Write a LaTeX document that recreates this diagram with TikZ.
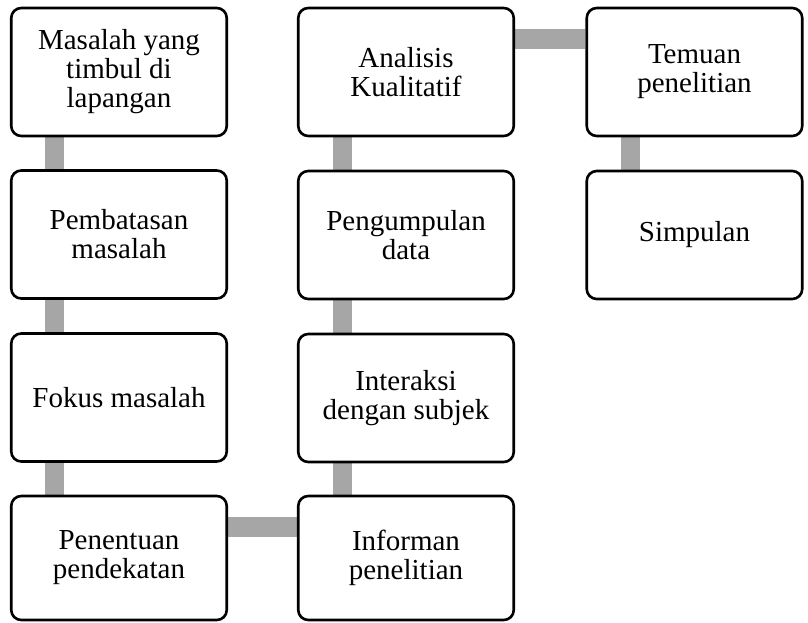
\documentclass[tikz,border=0pt]{standalone}
\usepackage{fontspec}
\setmainfont{Liberation Serif}
\usetikzlibrary{backgrounds}
\definecolor{linkgray}{HTML}{A6A6A6}
\tikzset{
  stepbox/.style={draw=black, fill=white, line width=2.6pt, rounded corners=10pt,
    minimum width=215.5pt, minimum height=128pt, inner sep=0pt, align=center,
    font=\fontsize{29pt}{29pt}\selectfont},
  link/.style={draw=linkgray, line width=19.5pt, line cap=butt}
}
\begin{document}
\begin{tikzpicture}[x=1pt,y=-1pt]
  \useasboundingbox (0,0) rectangle (808,623);

  % first column, top to bottom
  \node[stepbox] (b1) at (119,72)    {Masalah yang\\timbul di\\lapangan};
  \node[stepbox] (b2) at (119,234.5) {Pembatasan\\masalah};
  \node[stepbox] (b3) at (119,397.5) {Fokus masalah};
  \node[stepbox, minimum height=124pt] (b4) at (119,558) {Penentuan\\pendekatan};

  % second column, bottom to top
  \node[stepbox, minimum height=124pt] (c4) at (406,558) {Informan\\penelitian};
  \node[stepbox] (c3) at (406,398)   {Interaksi\\dengan subjek};
  \node[stepbox] (c2) at (406,235)   {Pengumpulan\\data};
  \node[stepbox] (c1) at (406,72)    {Analisis\\Kualitatif};

  % third column
  \node[stepbox] (d1) at (694.5,72)  {Temuan\\penelitian};
  \node[stepbox] (d2) at (694.5,235) {Simpulan};

  % connecting bars behind the boxes
  \begin{scope}[on background layer]
    \draw[link] ([xshift=44.5pt]b1.south west) -- ([xshift=44.5pt]b2.north west);
    \draw[link] ([xshift=44.5pt]b2.south west) -- ([xshift=44.5pt]b3.north west);
    \draw[link] ([xshift=44.5pt]b3.south west) -- ([xshift=44.5pt]b4.north west);
    \draw[link] ([yshift=-32.5pt]b4.north east) -- ([yshift=-32.5pt]c4.north west);
    \draw[link] ([xshift=45.5pt]c4.north west) -- ([xshift=45.5pt]c3.south west);
    \draw[link] ([xshift=45.5pt]c3.north west) -- ([xshift=45.5pt]c2.south west);
    \draw[link] ([xshift=45.5pt]c2.north west) -- ([xshift=45.5pt]c1.south west);
    \draw[link] ([yshift=-32.5pt]c1.north east) -- ([yshift=-32.5pt]d1.north west);
    \draw[link] ([xshift=45pt]d1.south west) -- ([xshift=45pt]d2.north west);
  \end{scope}
\end{tikzpicture}
\end{document}
